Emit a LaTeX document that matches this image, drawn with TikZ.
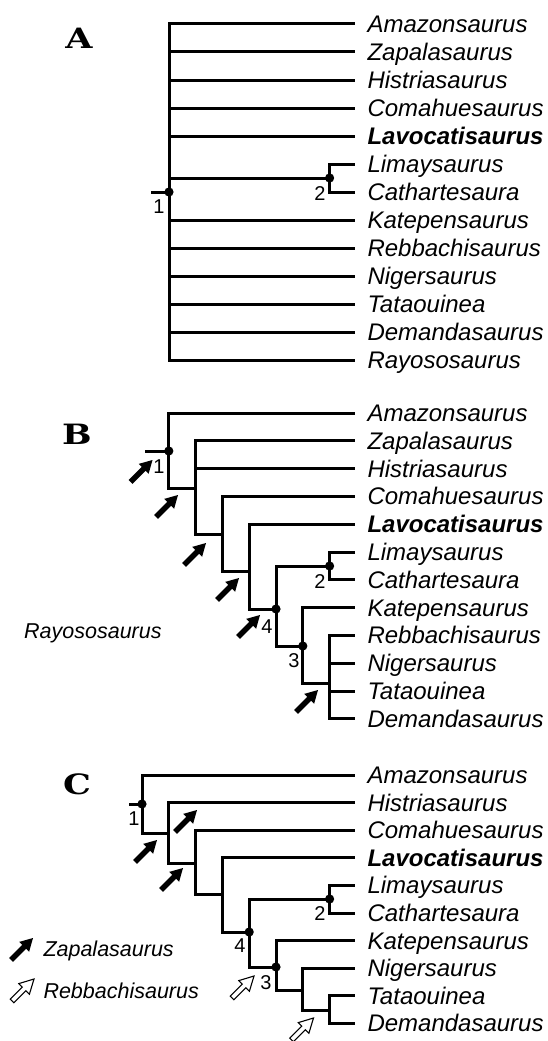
\documentclass[tikz,border=0pt]{standalone}
\usepackage{fontspec}
\setmainfont{Liberation Sans}
\newfontfamily\panelfont[FakeStretch=1.25]{DejaVu Serif}
\usepackage{tikz}
\usetikzlibrary{arrows.meta,positioning}

\tikzset{
  taxon/.style={anchor=west,font=\itshape\fontsize{24}{28}\selectfont,text height=17pt,text depth=0pt,inner xsep=11pt,inner ysep=0pt},
  plain/.style={anchor=west,font=\itshape\fontsize{21.5}{26}\selectfont,text height=15.4pt,text depth=0pt,inner sep=0pt},
  num/.style={font=\fontsize{20}{22}\selectfont,text height=14.3pt,text depth=0pt,inner sep=0pt},
  panel/.style={font=\panelfont\bfseries\fontsize{28}{30}\selectfont,inner sep=0pt},
  zap/.pic={\fill[black] (0,0) -- (-12.5,7) -- (-12.5,2.8) -- (-31,2.8) -- (-31,-2.8) -- (-12.5,-2.8) -- (-12.5,-7) -- cycle;},
  reb/.pic={\draw[fill=white,line width=1.1pt,line join=miter] (0,0) -- (-14,7.5) -- (-14,2.6) -- (-31,2.6) -- (-31,-2.6) -- (-14,-2.6) -- (-14,-7.5) -- cycle;},
}

\begin{document}
\begin{tikzpicture}[x=1pt,y=-1pt,line width=3pt]
  \useasboundingbox (0,0) rectangle (547,1041);

  % A
  \node[panel] (lab-a) at (79,38.5) {A};
  \foreach \t [count=\k from 0] in {Amazonsaurus,Zapalasaurus,Histriasaurus,Comahuesaurus,{\bfseries Lavocatisaurus},
      Limaysaurus,Cathartesaura,Katepensaurus,Rebbachisaurus,Nigersaurus,Tataouinea,Demandasaurus,Rayososaurus}
    \node[taxon] (a\k) at (355,24+28*\k) {\t};
  \coordinate (a-stub) at (151,192);
  \coordinate (a-n1) at (169,192);
  \coordinate (a-n2) at (329.6,178);
  \draw (a-stub) -- (a-n1);
  \foreach \k in {0,1,2,3,4,7,8,9,10,11,12}
    \draw (a-n1) |- (a\k.west);
  \draw (a-n1) |- (a-n2);
  \draw (a-n2) |- (a5.west);
  \draw (a-n2) |- (a6.west);
  \fill (a-n1) circle (4.6pt) (a-n2) circle (4.6pt);
  \node[num] (a-l1) at (159,206) {1};
  \node[num] (a-l2) at (320,193) {2};

  % B
  \node[panel] (lab-b) at (77,434) {B};
  \foreach \t [count=\k from 0] in {Amazonsaurus,Zapalasaurus,Histriasaurus,Comahuesaurus,{\bfseries Lavocatisaurus},
      Limaysaurus,Cathartesaura,Katepensaurus,Rebbachisaurus,Nigersaurus,Tataouinea,Demandasaurus}
    \node[taxon] (b\k) at (355,413+27.8*\k) {\t};
  \coordinate (b-stub) at (145,451);
  \coordinate (b-n1) at (168.8,451);
  \coordinate (b-l2) at (195.6,488);
  \coordinate (b-l3) at (222.4,534);
  \coordinate (b-l4) at (249.2,571);
  \coordinate (b-n4) at (276,609);
  \coordinate (b-n2) at (329.6,566);
  \coordinate (b-n3) at (302.8,646);
  \coordinate (b-l7) at (329.6,683);
  \draw (b-stub) -- (b-n1);
  \foreach \p/\c in {b-n1/b0.west,b-n1/b-l2,b-l2/b1.west,b-l2/b2.west,b-l2/b-l3,b-l3/b3.west,b-l3/b-l4,
      b-l4/b4.west,b-l4/b-n4,b-n4/b-n2,b-n4/b-n3,b-n2/b5.west,b-n2/b6.west,b-n3/b7.west,b-n3/b-l7,
      b-l7/b8.west,b-l7/b9.west,b-l7/b10.west,b-l7/b11.west}
    \draw (\p) |- (\c);
  \foreach \n in {b-n1,b-n2,b-n3,b-n4}
    \fill (\n) circle (4.6pt);
  \node[num] (b-l1) at (159,466) {1};
  \node[num] (b-l4n) at (267,626) {4};
  \node[num] (b-l2n) at (320,581) {2};
  \node[num] (b-l3n) at (294,660) {3};
  \foreach \x/\y [count=\i] in {152.5/460,178/495,206/543,239/578,260/615,318/690}
    \pic[rotate=45] (b-z\i) at (\x,\y) {zap};
  \node[plain] (b-rayo) at (22.7,631) {Rayososaurus};

  % C
  \node[panel] (lab-c) at (77,784.5) {C};
  \foreach \t [count=\k from 0] in {Amazonsaurus,Histriasaurus,Comahuesaurus,{\bfseries Lavocatisaurus},
      Limaysaurus,Cathartesaura,Katepensaurus,Nigersaurus,Tataouinea,Demandasaurus}
    \node[taxon] (c\k) at (355,775+27.6*\k) {\t};
  \coordinate (c-stub) at (129,804);
  \coordinate (c-n1) at (142,804);
  \coordinate (c-l1) at (168.8,833);
  \coordinate (c-l2) at (195.6,863);
  \coordinate (c-l3) at (222.4,894);
  \coordinate (c-n4) at (249.2,932);
  \coordinate (c-n2) at (329.6,899);
  \coordinate (c-n3) at (276,967);
  \coordinate (c-l6) at (302.8,990);
  \coordinate (c-l7) at (329.6,1010);
  \draw (c-stub) -- (c-n1);
  \foreach \p/\c in {c-n1/c0.west,c-n1/c-l1,c-l1/c1.west,c-l1/c-l2,c-l2/c2.west,c-l2/c-l3,
      c-l3/c3.west,c-l3/c-n4,c-n4/c-n2,c-n4/c-n3,c-n2/c4.west,c-n2/c5.west,
      c-n3/c6.west,c-n3/c-l6,c-l6/c7.west,c-l6/c-l7,c-l7/c8.west,c-l7/c9.west}
    \draw (\p) |- (\c);
  \foreach \n in {c-n1,c-n2,c-n3,c-n4}
    \fill (\n) circle (4.6pt);
  \node[num] (c-l1n) at (134,818) {1};
  \node[num] (c-l4n) at (240,945) {4};
  \node[num] (c-l2n) at (320,913) {2};
  \node[num] (c-l3n) at (266,982) {3};
  \foreach \x/\y [count=\i] in {197/810,157/840,183/868}
    \pic[rotate=45] (c-z\i) at (\x,\y) {zap};
  \foreach \x/\y [count=\i] in {254/976,313.5/1018}
    \pic[rotate=45] (c-r\i) at (\x,\y) {reb};

  % legend
  \pic[rotate=45] (key-z) at (33,938) {zap};
  \node[plain] (key-zt) at (42,949) {Zapalasaurus};
  \pic[rotate=45] (key-r) at (34,979) {reb};
  \node[plain] (key-rt) at (42,991) {Rebbachisaurus};
\end{tikzpicture}
\end{document}
